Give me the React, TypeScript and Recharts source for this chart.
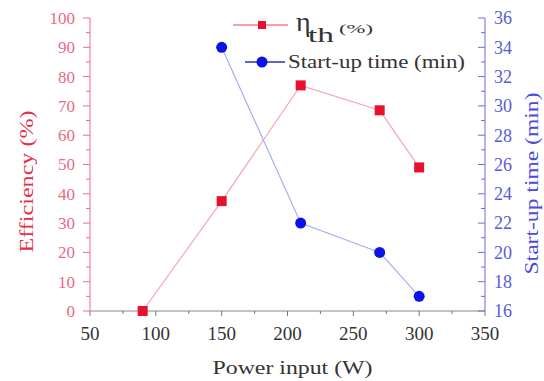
import React from 'react';
import { LineChart, Line, XAxis, YAxis, Legend } from 'recharts';

const powerInput = [90, 150, 210, 270, 300];
const efficiency = [0, 37.5, 77, 68.5, 49];
const startupTime = [null, 34, 22, 20, 17];

const xTicks = [50, 75, 100, 125, 150, 175, 200, 225, 250, 275, 300, 325, 350];
const effTicks = [0, 5, 10, 15, 20, 25, 30, 35, 40, 45, 50, 55, 60, 65, 70, 75, 80, 85, 90, 95, 100];
const timeTicks = [16, 17, 18, 19, 20, 21, 22, 23, 24, 25, 26, 27, 28, 29, 30, 31, 32, 33, 34, 35, 36];

const data = powerInput.map((p, i) => ({ p, eff: efficiency[i], time: startupTime[i] }));

const SERIF = 'Liberation Serif, Times New Roman, serif';
const FS = { fontFamily: SERIF };
const RED = '#e8102a';
const BLUE = '#0a14e6';

const XTick = (props: any) => {
  const { x, y, payload } = props;
  const v = payload.value;
  const major = v % 50 === 0;
  return (
    <g>
      <line x1={x} y1={y} x2={x} y2={y + (major ? 5 : 3)} stroke="#777" strokeWidth={1} />
      {major && (
        <text x={x} y={y + 29} textAnchor="middle" fontSize={19} fill="#333" style={FS}>
          {v}
        </text>
      )}
    </g>
  );
};

const LeftTick = (props: any) => {
  const { x, y, payload } = props;
  const v = payload.value;
  const major = v % 10 === 0;
  return (
    <g>
      <line x1={x} y1={y} x2={x - (major ? 7 : 4)} y2={y} stroke="#f06a88" strokeWidth={1} />
      {major && (
        <text x={x - 15} y={y} dy="0.35em" textAnchor="end" fontSize={17} fill="#ec6a84" style={FS}>
          {v}
        </text>
      )}
    </g>
  );
};

const RightTick = (props: any) => {
  const { x, y, payload } = props;
  const v = payload.value;
  const major = v % 2 === 0;
  return (
    <g>
      <line x1={x} y1={y} x2={x - (major ? 7 : 4)} y2={y} stroke="#6a6ae0" strokeWidth={1} />
      {major && (
        <text x={x + 9} y={y} dy="0.35em" textAnchor="start" fontSize={18} fill="#5a5ad8" style={FS}>
          {v}
        </text>
      )}
    </g>
  );
};

const SquareDot = (props: any) => {
  const { cx, cy, index } = props;
  if (cx == null || cy == null) return <g key={`sq-${index}`} />;
  return <rect key={`sq-${index}`} x={cx - 5} y={cy - 5} width={10} height={10} fill={RED} />;
};

const LegendContent = () => (
  <svg width={260} height={80} style={{ display: 'block' }}>
    <line x1={8} y1={25} x2={63} y2={25} stroke="#f07f8c" strokeWidth={1.5} />
    <rect x={33} y={21} width={8} height={8} fill={RED} />
    <text x={71} y={31} fontSize={28} fill="#333" style={FS}>η</text>
    <text x={83} y={42} fontSize={22} fill="#333" style={FS} textLength={26} lengthAdjust="spacingAndGlyphs">th</text>
    <text x={114} y={33} fontSize={12} fill="#333" style={FS} textLength={34} lengthAdjust="spacingAndGlyphs">(%)</text>
    <line x1={20} y1={62} x2={60} y2={62} stroke="#2632b8" strokeWidth={1.5} />
    <circle cx={37} cy={62} r={5.5} fill={BLUE} />
    <text x={63} y={62} dy="0.35em" fontSize={18} fill="#333" style={FS} textLength={177} lengthAdjust="spacingAndGlyphs">
      Start-up time (min)
    </text>
  </svg>
);

export default function App() {
  return (
    <div style={{ position: 'absolute', left: 0, top: 0, width: 544, height: 381, background: '#fff', fontFamily: SERIF }}>
      <LineChart width={544} height={381} data={data} margin={{ top: 18, right: 0, bottom: 0, left: 0 }} style={FS}>
        <XAxis
          dataKey="p"
          type="number"
          domain={[50, 350]}
          ticks={xTicks}
          interval={0}
          tick={<XTick />}
          tickLine={false}
          tickSize={0}
          tickMargin={0}
          height={70}
          stroke="#888"
          allowDataOverflow
          label={{
            content: (p: any) => {
              const vb = p.viewBox || {};
              return (
                <text
                  x={vb.x + vb.width / 2 + 5}
                  y={vb.y + 63}
                  textAnchor="middle"
                  fontSize={19}
                  fill="#333"
                  style={FS}
                  textLength={160}
                  lengthAdjust="spacingAndGlyphs"
                >
                  Power input (W)
                </text>
              );
            },
          }}
        />
        <YAxis
          yAxisId="left"
          orientation="left"
          domain={[0, 100]}
          ticks={effTicks}
          interval={0}
          tick={<LeftTick />}
          tickLine={false}
          tickSize={0}
          tickMargin={0}
          width={90}
          stroke="#f06a88"
          label={{
            content: (p: any) => {
              const vb = p.viewBox || {};
              const cx = vb.x + 26;
              const cy = vb.y + vb.height / 2 + 17;
              return (
                <text
                  x={cx}
                  y={cy}
                  dy="0.35em"
                  textAnchor="middle"
                  fontSize={19}
                  fill="#e62e48"
                  style={FS}
                  transform={`rotate(-90 ${cx} ${cy})`}
                  textLength={142}
                  lengthAdjust="spacingAndGlyphs"
                >
                  Efficiency (%)
                </text>
              );
            },
          }}
        />
        <YAxis
          yAxisId="right"
          orientation="right"
          domain={[16, 36]}
          ticks={timeTicks}
          interval={0}
          tick={<RightTick />}
          tickLine={false}
          tickSize={0}
          tickMargin={0}
          width={59}
          stroke="#6a6ae0"
          label={{
            content: (p: any) => {
              const vb = p.viewBox || {};
              const cx = vb.x + 46;
              const cy = vb.y + vb.height / 2 + 19;
              return (
                <text
                  x={cx}
                  y={cy}
                  dy="0.35em"
                  textAnchor="middle"
                  fontSize={19}
                  fill="#4a4ae0"
                  style={FS}
                  transform={`rotate(-90 ${cx} ${cy})`}
                  textLength={182}
                  lengthAdjust="spacingAndGlyphs"
                >
                  Start-up time (min)
                </text>
              );
            },
          }}
        />
        <Legend
          layout="horizontal"
          verticalAlign="middle"
          align="center"
          content={<LegendContent />}
          wrapperStyle={{ position: 'absolute', left: 225, top: 0, width: 260, height: 80 }}
        />
        <Line
          yAxisId="left"
          dataKey="eff"
          name="ηth (%)"
          stroke="#f6a6b2"
          strokeWidth={1.2}
          dot={<SquareDot />}
          activeDot={false}
          isAnimationActive={false}
        />
        <Line
          yAxisId="right"
          dataKey="time"
          name="Start-up time (min)"
          stroke="#a8aef0"
          strokeWidth={1.2}
          dot={{ r: 5.5, fill: BLUE, stroke: BLUE, strokeWidth: 0 }}
          activeDot={false}
          isAnimationActive={false}
        />
      </LineChart>
    </div>
  );
}
